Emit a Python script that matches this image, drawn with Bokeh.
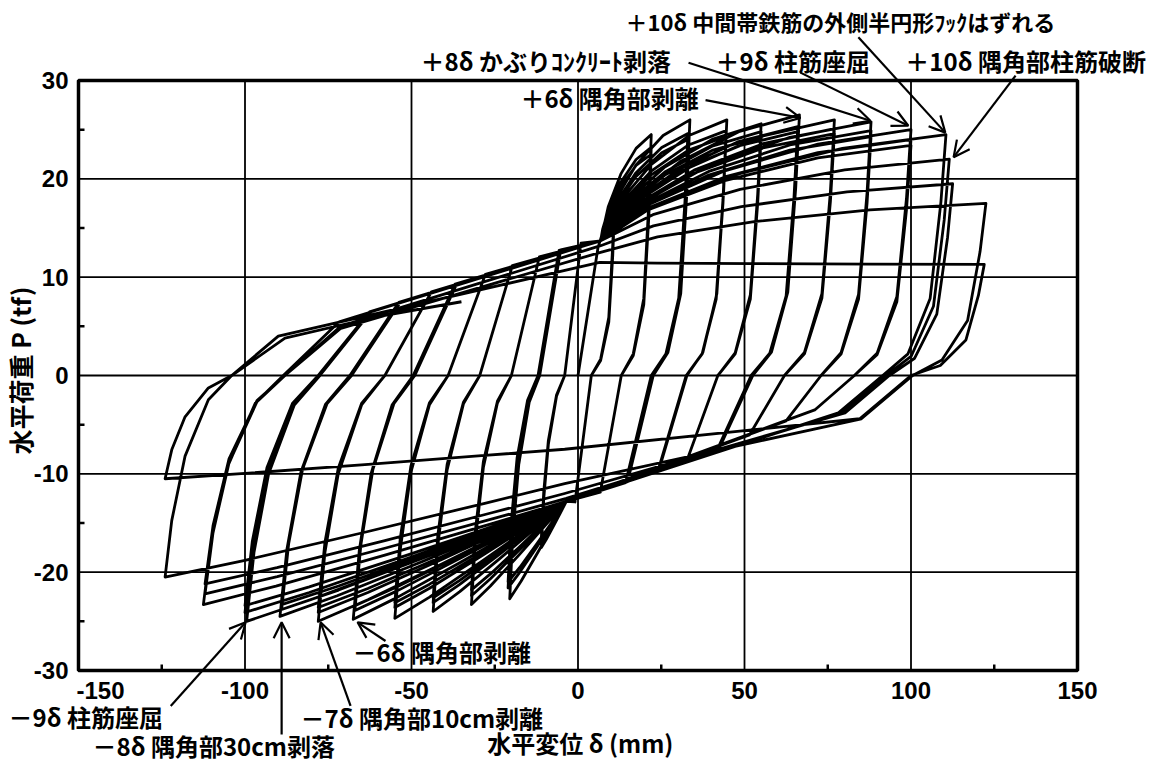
import math
from bokeh.plotting import figure
from bokeh.models import Range1d, Label, Arrow, OpenHead
from bokeh.core.properties import value
from bokeh.embed import file_html
from bokeh.resources import INLINE

# ---------------- data ----------------
# peaks of each loading cycle: displacement (mm) and load (tf)
pos_peak_disp = [11, 11, 11, 22, 22, 22, 33.6, 33, 33, 44.7, 44.5, 44.5,
                 55, 55, 55, 66.5, 66, 66, 77, 77, 77, 88, 88, 88,
                 100, 100, 100, 110.5, 111.5, 112.5, 122.5, 122]
pos_peak_load = [18.5, 17.5, 17, 24.5, 23.2, 22.5, 26, 24.6, 24, 26, 24.9, 24.3,
                 25.6, 24.8, 24.3, 26.5, 25.3, 24.8, 26, 25.1, 24.6, 25.8, 24.9, 24.3,
                 25, 24, 23.4, 24.5, 22, 19.5, 17.5, 11.3]
neg_peak_disp = [-11, -11, -11, -20.5, -21, -21, -32, -32, -32, -43.5, -43.5, -43.5,
                 -55, -55, -55, -67.5, -67, -67, -78, -78, -78, -89.5, -89, -89,
                 -99.5, -100, -100, -112.5, -112, -112, -124, -124]
neg_peak_load = [-17.5, -17, -16.5, -22.7, -21.6, -21, -23.3, -22.4, -21.8, -24, -23.1, -22.6,
                 -24.7, -23.6, -23.1, -24.8, -23.9, -23.4, -25, -24.1, -23.6, -24.5, -23.8, -23.3,
                 -25, -24.1, -23.4, -23.3, -22.2, -21.2, -20.5, -10.5]
# displacement travelled from a peak until the load crosses zero (mm)
pos_unload_span = [7, 7, 7, 9, 9, 9, 11, 11, 11, 12, 12, 12, 13, 13, 13, 14, 14, 14,
                   15, 15, 15, 15, 15, 15, 17, 17, 17, 19, 19, 19, 22, 22]
neg_unload_span = [7, 7, 7, 9, 9, 9, 12, 12, 12, 14, 14, 14, 16, 16, 16, 18, 18, 18,
                   20, 20, 20, 21, 21, 21, 22, 22, 22, 24, 24, 24, 20, 20]
# pinch points where the slip branches converge (mm, tf)
upper_pinch_disp = [6.8] * 28 + [6.8, 6.5, 6.5, 6.0]
upper_pinch_load = [13.7] * 28 + [13.2, 12.5, 11.5, 8.5]
lower_pinch_disp = [-3.5] * 28 + [-3.5, -4.0, -4.0, -4.0]
lower_pinch_load = [-12.8] * 28 + [-12.5, -12.0, -11.0, -7.5]
slip_slope_upper = 0.11   # tf/mm
slip_slope_lower = 0.13   # tf/mm

x_ticks = [-150, -100, -50, 0, 50, 100, 150]
x_minor = [-125, -75, -25, 25, 75, 125]
y_ticks = [-30, -20, -10, 0, 10, 20, 30]
y_minor = [-25, -15, -5, 5, 15, 25]
x_labels = ["-150", "-100", "-50", "0", "50", "100", "150"]
y_labels = ["-30", "-20", "-10", "0", "10", "20", "30"]

# ---------------- build the load path ----------------
xs, ys = [0.0, 6.0], [0.0, 13.0]
n = len(pos_peak_disp)
for i in range(n):
    D, P = pos_peak_disp[i], pos_peak_load[i]
    Dn, Pn = neg_peak_disp[i], neg_peak_load[i]
    c = pos_unload_span[i]
    xl, yl = lower_pinch_disp[i], lower_pinch_load[i]
    # positive peak -> negative peak
    pts = [(D, P), (D - 0.08 * c, 0.72 * P), (D - 0.25 * c, 0.32 * P),
           (D - 0.6 * c, 0.09 * P), (D - c, 0.0)]
    x3 = D - 1.7 * c
    if x3 > xl + 2:
        pts.append((x3, min(yl + slip_slope_lower * (x3 - xl) - 0.4, -0.2 * c)))
    pts.append((xl, yl))
    for f, g in ((0.2, 0.21), (0.5, 0.52), (0.8, 0.82)):
        pts.append((xl + f * (Dn - xl), yl + g * (Pn - yl)))
    pts.append((Dn, Pn))
    # negative peak -> next positive peak
    cn = neg_unload_span[i]
    pts += [(Dn + 0.1 * cn, 0.72 * Pn), (Dn + 0.3 * cn, 0.4 * Pn),
            (Dn + 0.65 * cn, 0.12 * Pn), (Dn + cn, 0.0)]
    if i + 1 < n:
        Dp, Pp = pos_peak_disp[i + 1], pos_peak_load[i + 1]
        xu, yu = upper_pinch_disp[i], upper_pinch_load[i]
        x3 = Dn + 1.7 * cn
        if x3 < xu - 2:
            pts.append((x3, max(yu + slip_slope_upper * (x3 - xu) + 0.4, 0.2 * cn)))
        pts.append((xu, yu))
        for f, g in ((0.15, 0.32), (0.4, 0.63), (0.7, 0.87)):
            pts.append((xu + f * (Dp - xu), yu + g * (Pp - yu)))
    else:
        pts += [(Dn + 1.8 * cn, 3.8), (-60, 6.0), (-35, 7.5)]
    for (x, y) in pts:
        xs.append(x)
        ys.append(y)

# ---------------- figure: frame covers the whole canvas ----------------
W, H = 1152, 766
px_per_mm = 999.0 / 300.0
px_per_tf = 590.0 / 60.0
x0_px, y0_px = 577.5, 375.0       # canvas position of the origin
p = figure(width=W, height=H,
           x_range=Range1d(-x0_px / px_per_mm, (W - x0_px) / px_per_mm),
           y_range=Range1d(-(H - y0_px) / px_per_tf, y0_px / px_per_tf),
           output_backend="svg", toolbar_location=None,
           x_axis_location=None, y_axis_location=None,
           min_border=0, min_border_left=0, min_border_right=0,
           min_border_top=0, min_border_bottom=0)
p.outline_line_color = None
p.xgrid.visible = False
p.ygrid.visible = False
p.background_fill_color = "white"
p.border_fill_color = "white"

xmin, xmax = x_ticks[0], x_ticks[-1]
ymin, ymax = y_ticks[0], y_ticks[-1]

# grid lines
p.segment(x0=x_ticks[1:-1], y0=[ymin] * 5, x1=x_ticks[1:-1], y1=[ymax] * 5,
          line_color="black", line_width=1.8)
p.segment(x0=[xmin] * 5, y0=y_ticks[1:-1], x1=[xmax] * 5, y1=y_ticks[1:-1],
          line_color="black", line_width=1.8)
# minor ticks (inside, left and bottom)
tick_x = 6 / px_per_mm
tick_y = 6 / px_per_tf
p.segment(x0=x_minor, y0=[ymin] * 6, x1=x_minor, y1=[ymin + tick_y] * 6,
          line_color="black", line_width=2.5)
p.segment(x0=[xmin] * 6, y0=y_minor, x1=[xmin + tick_x] * 6, y1=y_minor,
          line_color="black", line_width=2.5)

# hysteresis curve
p.line(xs, ys, line_color="black", line_width=2.8, line_join="round")

# frame
p.rect(x=[(xmin + xmax) / 2], y=[(ymin + ymax) / 2], width=[xmax - xmin], height=[ymax - ymin],
       fill_color=None, line_color="black", line_width=3.5)

# tick labels
tick_font = value("Liberation Sans")
p.text(x=x_ticks[1:], y=[ymin] * 6, text=x_labels[1:], text_font=tick_font,
       text_font_style="bold", text_font_size="24px", text_align="center",
       text_baseline="middle", y_offset=20, text_color="black")
p.text(x=x_ticks[:1], y=[ymin], text=x_labels[:1], text_font=tick_font,
       text_font_style="bold", text_font_size="24px", text_align="center",
       text_baseline="middle", y_offset=20, x_offset=22, text_color="black")
p.text(x=[xmin] * 7, y=y_ticks, text=y_labels, text_font=tick_font,
       text_font_style="bold", text_font_size="24px", text_align="right",
       text_baseline="middle", x_offset=-10, text_color="black")

jp = "Noto Sans CJK JP"
def lab(x, y, t, size="24px", align="left", angle=0.0):
    p.add_layout(Label(x=x, y=y, text=t, text_font=jp, text_font_size=size,
                       text_font_style="bold", text_align=align, text_baseline="middle",
                       angle=angle, text_color="black"))

def arr(xa, ya, xb, yb):
    p.add_layout(Arrow(end=OpenHead(size=16, line_width=2.2, line_color="black"),
                       x_start=xa, y_start=ya, x_end=xb, y_end=yb,
                       line_width=2.2, line_color="black"))

# axis titles
lab(0.7, -37.3, "水平変位 δ (mm)", size="24px", align="center")
lab(-167.5, 0.5, "水平荷重 P (tf)", size="25px", align="center", angle=math.pi / 2)

# top annotations
lab(14.3, 36.1, "＋10δ 中間帯鉄筋の外側半円形ﾌｯｸはずれる", size="22px")
lab(-47.3, 32.0, "＋8δ かぶりｺﾝｸﾘｰﾄ剥落")
lab(41.3, 32.0, "＋9δ 柱筋座屈")
lab(98.3, 32.0, "＋10δ 隅角部柱筋破断")
lab(-17.3, 28.3, "＋6δ 隅角部剥離")
arr(38.3, 28.0, 66.8, 26.2)
arr(33.2, 31.8, 87.8, 25.9)
arr(66.8, 30.8, 99.2, 25.4)
arr(84.2, 34.4, 110.3, 24.7)
arr(131.4, 30.5, 112.8, 22.2)

# bottom annotations
lab(-67.7, -28.1, "－6δ 隅角部剥離")
lab(-83.3, -34.8, "－7δ 隅角部10cm剥離")
lab(-171.0, -34.7, "－9δ 柱筋座屈")
lab(-145.8, -37.6, "－8δ 隅角部30cm剥落")
arr(-57.8, -27.0, -66.2, -25.1)
arr(-68.3, -33.6, -77.3, -25.1)
arr(-122.3, -33.6, -99.8, -25.1)
arr(-89.0, -36.5, -89.0, -25.1)

open("out.html", "w").write(file_html(p, INLINE))
